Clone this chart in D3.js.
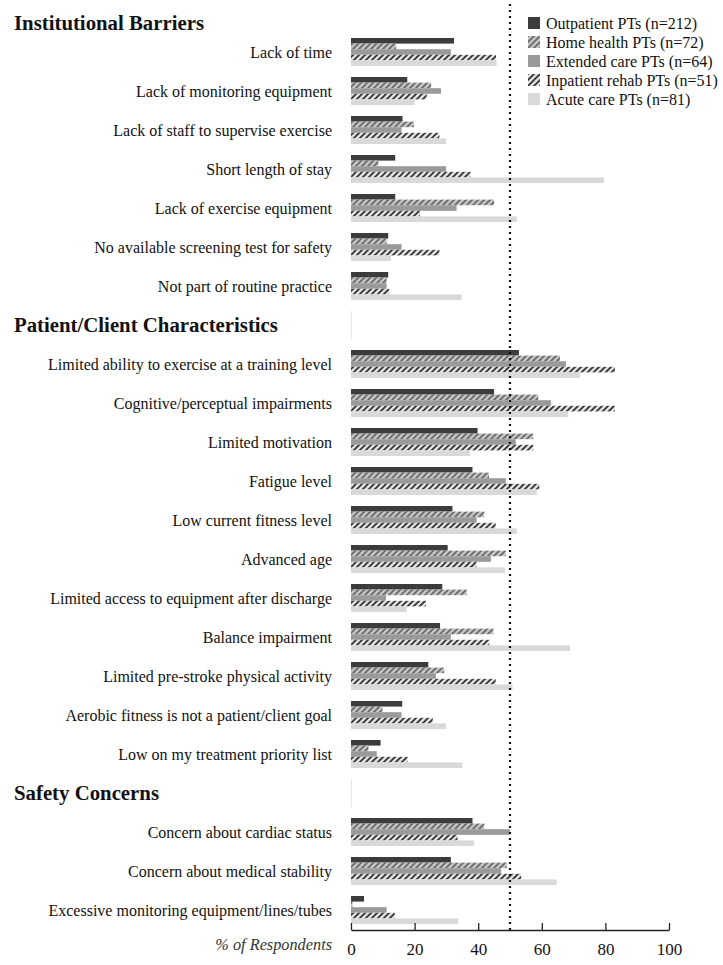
<!DOCTYPE html>
<html><head><meta charset="utf-8">
<script src="https://cdn.jsdelivr.net/npm/d3@7"></script>
<style>html,body{margin:0;padding:0;background:#fff;}svg{display:block;}</style>
</head><body>
<svg id="chart" width="723" height="965"></svg>
<script>
const categories = [
  "Lack of time","Lack of monitoring equipment","Lack of staff to supervise exercise","Short length of stay",
  "Lack of exercise equipment","No available screening test for safety","Not part of routine practice",
  "Patient/Client Characteristics",
  "Limited ability to exercise at a training level","Cognitive/perceptual impairments","Limited motivation",
  "Fatigue level","Low current fitness level","Advanced age","Limited access to equipment after discharge",
  "Balance impairment","Limited pre-stroke physical activity","Aerobic fitness is not a patient/client goal",
  "Low on my treatment priority list",
  "Safety Concerns",
  "Concern about cardiac status","Concern about medical stability","Excessive monitoring equipment/lines/tubes"
];
const topHeader = "Institutional Barriers";
const headers = ["Patient/Client Characteristics","Safety Concerns"];
const seriesNames = ["Outpatient PTs (n=212)","Home health PTs (n=72)","Extended care PTs (n=64)","Inpatient rehab PTs (n=51)","Acute care PTs (n=81)"];
const outpatient = [32.4,17.7,16.2,13.9,13.9,11.7,11.7, 0, 52.8,45,39.8,38.2,31.9,30.4,28.7,28,24.3,16.1,9.3, 0, 38.2,31.4,4.1];
const homeHealth = [14.2,25.2,19.8,8.6,45,11.2,11.2, 0, 65.7,58.9,57.3,43.4,41.9,48.7,36.4,44.8,29.3,9.9,5.5, 0, 41.9,49,0.5];
const extendedCare = [31.4,28.3,15.9,29.9,33.2,15.9,11.2, 0, 67.6,62.9,51.8,48.7,39.5,44,11,31.4,26.7,15.9,8.1, 0, 50,47.2,11.2];
const inpatientRehab = [45.6,23.8,27.8,37.6,21.7,27.8,12, 0, 83,83,57.3,59.2,45.5,39.5,23.6,43.5,45.5,25.7,17.8, 0, 33.5,53.5,13.8];
const acuteCare = [45.8,20.1,29.9,79.6,52.1,12.6,34.8, 0, 72,68.3,37.4,58.4,52.1,48.4,17.5,68.9,50.8,29.9,35, 0, 38.7,64.7,33.7];
const xTicks = [0,20,40,60,80,100];
const refValue = 50;
const axisTitle = "% of Respondents";

const seriesValues = [outpatient, homeHealth, extendedCare, inpatientRehab, acuteCare];
const fills = ["#3c3c3c","url(#hatchLight)","#9a9a9a","url(#hatchDark)","#d9d9d9"];

const svg = d3.select("#chart");
const defs = svg.append("defs");
function hatch(id, bg, fg, w){
  const p = defs.append("pattern").attr("id",id).attr("patternUnits","userSpaceOnUse")
    .attr("width",6).attr("height",6);
  p.append("rect").attr("width",6).attr("height",6).attr("fill",bg);
  p.append("path").attr("d","M0,6 L6,0 M-1.5,1.5 L1.5,-1.5 M4.5,7.5 L7.5,4.5")
    .attr("stroke",fg).attr("stroke-width",w);
}
hatch("hatchLight","#c4c4c4","#666",1.6);
hatch("hatchDark","#dedede","#2e2e2e",1.6);

const font = "'Liberation Serif','Times New Roman',serif";
const x = d3.scaleLinear().domain([0,100]).range([351,669]);
const y = d3.scaleBand().domain(categories).range([32.5, 929.5]).paddingInner(0.282).paddingOuter(0.141);
const ySub = d3.scaleBand().domain(d3.range(5)).range([0, y.bandwidth()]);

// bars
seriesValues.forEach((vals, si) => {
  svg.append("g").selectAll("rect").data(vals).join("rect")
    .attr("x", x(0))
    .attr("y", (d,i) => y(categories[i]) + ySub(si))
    .attr("height", ySub.bandwidth())
    .attr("width", d => Math.max(x(d) - x(0), 1))
    .attr("fill", (d,i) => headers.includes(categories[i]) ? "#e6e6e6" : fills[si]);
});

// labels
svg.append("g").selectAll("text").data(categories).join("text")
  .attr("x", d => headers.includes(d) ? 14 : 332)
  .attr("y", d => y(d) + y.bandwidth()/2)
  .attr("dy","0.35em")
  .attr("text-anchor", d => headers.includes(d) ? "start" : "end")
  .attr("font-family", font)
  .attr("font-size", d => headers.includes(d) ? 20.8 : 16)
  .attr("font-weight", d => headers.includes(d) ? "bold" : "normal")
  .attr("fill","#111")
  .text(d => d);
svg.append("text").attr("x",14).attr("y",23).attr("dy","0.35em")
  .attr("font-family",font).attr("font-size",20.8).attr("font-weight","bold").attr("fill","#111")
  .text(topHeader);

// reference line
svg.append("line").attr("x1",x(refValue)).attr("x2",x(refValue)).attr("y1",4).attr("y2",930)
  .attr("stroke","#111").attr("stroke-width",2.2).attr("stroke-dasharray","2,4");

// axis
const axis = svg.append("g").attr("transform","translate(0,930)")
  .call(d3.axisBottom(x).tickValues(xTicks).tickSize(0).tickPadding(13));
axis.select(".domain").attr("stroke","#222").attr("stroke-width",1.3);
axis.selectAll(".tick line").remove();
axis.selectAll(".tick").append("line").attr("y1",-7).attr("y2",0).attr("stroke","#222").attr("stroke-width",1.3);
axis.selectAll(".tick text").attr("font-family",font).attr("font-size",17).attr("fill","#111");
svg.append("text").attr("x",332).attr("y",950).attr("text-anchor","end")
  .attr("font-family",font).attr("font-size",16.3).attr("font-style","italic").attr("fill","#333").text(axisTitle);

// legend
const lg = svg.append("g").attr("transform","translate(528,23)");
seriesNames.forEach((n,i) => {
  const g = lg.append("g").attr("transform",`translate(0,${i*19})`);
  g.append("rect").attr("x",0).attr("y",-6).attr("width",12).attr("height",12).attr("fill",fills[i]);
  g.append("text").attr("x",18).attr("y",0).attr("dy","0.35em").attr("font-family",font)
    .attr("font-size",16).attr("fill","#111").text(n);
});
</script>
</body></html>
